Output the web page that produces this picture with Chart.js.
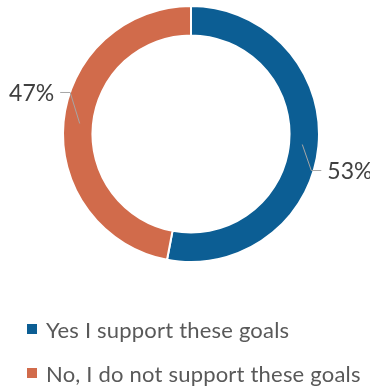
<!DOCTYPE html>
<html><head><meta charset="utf-8">
<script src="https://cdn.jsdelivr.net/npm/chart.js@4"></script>
<style>
html,body{margin:0;padding:0;background:#fff;}
#wrap{position:relative;width:370px;height:387px;}
canvas{position:absolute;left:0;top:0;}
#legend{position:absolute;left:27px;top:307px;font-family:Lato,sans-serif;font-size:22px;letter-spacing:0.2px;color:#595959;}
.item{display:flex;align-items:center;height:44px;white-space:nowrap;}
.box{width:10px;height:10px;margin-right:9px;}
</style></head>
<body>
<div id="wrap"><canvas id="c" width="370" height="387"></canvas><div id="legend"></div></div>
<script>
const categories = ["Yes I support these goals", "No, I do not support these goals"];
const values = [53, 47];
const valueLabels = ["53%", "47%"];
const colors = ["#0c5e94", "#d16b4b"];

// leader line styling offsets (elbow relative to anchor, then horizontal length)
const leader = [{dx: 9, dy: 26, h: 10, side: 1}, {dx: -9.5, dy: -31, h: -10, side: -1}];

const labelPlugin = {
  id: 'outLabels',
  afterDatasetsDraw(chart) {
    const ctx = chart.ctx;
    const meta = chart.getDatasetMeta(0);
    meta.data.forEach((arc, i) => {
      const mid = (arc.startAngle + arc.endAngle) / 2;
      const r = arc.innerRadius + (arc.outerRadius - arc.innerRadius) * 0.45;
      const ax = arc.x + Math.cos(mid) * r;
      const ay = arc.y + Math.sin(mid) * r;
      const L = leader[i];
      const ex = ax + L.dx, ey = ay + L.dy;
      const fx = ex + L.h;
      ctx.save();
      ctx.strokeStyle = '#a6a6a6';
      ctx.lineWidth = 1;
      ctx.beginPath();
      ctx.moveTo(ax, ay); ctx.lineTo(ex, ey); ctx.lineTo(fx, ey);
      ctx.stroke();
      ctx.fillStyle = '#404040';
      ctx.font = '23px Lato, sans-serif';
      ctx.textBaseline = 'middle';
      ctx.textAlign = L.side > 0 ? 'left' : 'right';
      ctx.fillText(valueLabels[i], fx + L.side * 6, ey + 1);
      ctx.restore();
    });
  }
};

new Chart(document.getElementById('c'), {
  type: 'doughnut',
  data: {
    labels: categories,
    datasets: [{
      data: values,
      backgroundColor: colors,
      borderColor: '#ffffff',
      borderWidth: 2,
      hoverOffset: 0
    }]
  },
  options: {
    responsive: false,
    animation: false,
    cutout: '77%',
    layout: {padding: {left: 12, right: 0, top: 5, bottom: 124}},
    plugins: {legend: {display: false}, tooltip: {enabled: false}}
  },
  plugins: [labelPlugin]
});

const lg = document.getElementById('legend');
categories.forEach((c, i) => {
  const d = document.createElement('div');
  d.className = 'item';
  d.innerHTML = '<span class="box" style="background:' + colors[i] + '"></span><span></span>';
  d.lastChild.textContent = c;
  lg.appendChild(d);
});
</script>
</body></html>
